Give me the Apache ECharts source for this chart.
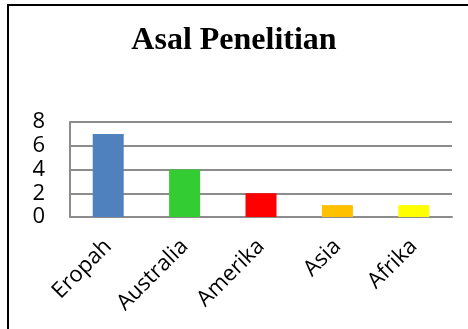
<!DOCTYPE html>
<html>
<head>
<meta charset="utf-8">
<script src="https://cdn.jsdelivr.net/npm/echarts@6/dist/echarts.min.js"></script>
<style>
  html, body { margin: 0; padding: 0; background: #fff; }
  #frame { position: absolute; left: 7px; top: 4px; width: 480px; height: 340px; border: 2px solid #000; box-sizing: border-box; }
  #chart { position: absolute; left: 0; top: 0; width: 468px; height: 329px; }
</style>
</head>
<body>
<div id="frame"></div>
<div id="chart"></div>
<script>
// data
var categories = ['Eropah', 'Australia', 'Amerika', 'Asia', 'Afrika']
var values = [7, 4, 2, 1, 1]
var barColors = ['#4F81BD', '#33CC33', '#FF0000', '#FFC000', '#FFFF00']

var gridColor = '#8c8c8c'
var labelFont = 'Open Sans'

var myChart = echarts.init(document.getElementById('chart'))

var option = {
  animation: false,
  title: {
    text: 'Asal Penelitian',
    left: 'center',
    top: 20,
    textStyle: {
      fontFamily: 'Liberation Serif',
      fontWeight: 'bold',
      fontSize: 32,
      color: '#000'
    }
  },
  grid: {
    left: 70,
    right: 16,
    top: 122,
    bottom: 112,
    containLabel: false
  },
  xAxis: {
    type: 'category',
    data: categories,
    axisLine: { lineStyle: { color: gridColor, width: 2 } },
    axisTick: { show: false },
    axisLabel: {
      rotate: 45,
      margin: 26,
      fontFamily: labelFont,
      fontSize: 22,
      color: '#000'
    }
  },
  yAxis: {
    type: 'value',
    min: 0,
    max: 8,
    interval: 2,
    axisLine: { show: true, lineStyle: { color: gridColor, width: 2 } },
    axisTick: { show: false },
    splitLine: { lineStyle: { color: gridColor, width: 2 } },
    axisLabel: {
      margin: 25,
      fontFamily: labelFont,
      fontSize: 22,
      color: '#000'
    }
  },
  series: [{
    type: 'bar',
    barWidth: 31,
    data: values.map(function (v, i) {
      return { value: v, itemStyle: { color: barColors[i] } }
    })
  }]
}

myChart.setOption(option)
</script>
</body>
</html>
